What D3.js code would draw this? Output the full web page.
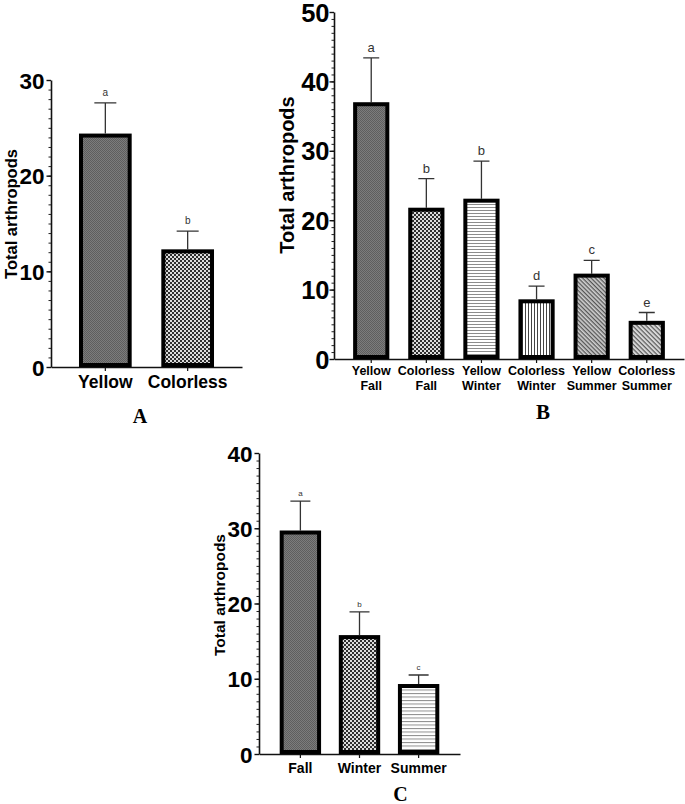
<!DOCTYPE html>
<html><head><meta charset="utf-8">
<script src="https://cdn.jsdelivr.net/npm/d3@7"></script>
<style>body{margin:0;background:#fff}svg{display:block}</style></head><body>
<svg id="c" width="685" height="804"></svg>
<script>
// ---- Data ----
const catsA = ["Yellow", "Colorless"];
const meanA = [24.4, 12.3];
const semA = [3.2, 1.9];
const sigA = ["a", "b"];
const ticksA = [0, 10, 20, 30];

const catsB = [["Yellow", "Fall"], ["Colorless", "Fall"], ["Yellow", "Winter"], ["Colorless", "Winter"], ["Yellow", "Summer"], ["Colorless", "Summer"]];
const meanB = [37.0, 21.8, 23.1, 8.6, 12.3, 5.5];
const semB = [6.4, 4.2, 5.4, 1.9, 1.9, 1.2];
const sigB = ["a", "b", "b", "d", "c", "e"];
const ticksB = [0, 10, 20, 30, 40, 50];

const catsC = ["Fall", "Winter", "Summer"];
const meanC = [29.7, 15.8, 9.3];
const semC = [3.9, 3.1, 1.2];
const sigC = ["a", "b", "c"];
const ticksC = [0, 10, 20, 30, 40];

const yTitle = "Total arthropods";

const svg = d3.select("#c");
const defs = svg.append("defs");

// ---- Patterns ----
function pat(id, w, h, bg, build, transform) {
  const p = defs.append("pattern").attr("id", id).attr("patternUnits", "userSpaceOnUse")
    .attr("width", w).attr("height", h);
  if (transform) p.attr("patternTransform", transform);
  p.append("rect").attr("width", w).attr("height", h).attr("fill", bg);
  build(p);
}
pat("fine", 2, 2, "#7c7c7c", p => {
  p.append("rect").attr("x", 0).attr("y", 0).attr("width", 1).attr("height", 1).attr("fill", "#5e5e5e");
  p.append("rect").attr("x", 1).attr("y", 1).attr("width", 1).attr("height", 1).attr("fill", "#5e5e5e");
});
pat("check", 4, 4, "#dcdcdc", p => {
  p.append("rect").attr("x", 0).attr("y", 0).attr("width", 2).attr("height", 2).attr("fill", "#2e2e2e");
  p.append("rect").attr("x", 2).attr("y", 2).attr("width", 2).attr("height", 2).attr("fill", "#2e2e2e");
});
pat("hlines", 4, 3, "#ffffff", p => {
  p.append("rect").attr("x", 0).attr("y", 0).attr("width", 4).attr("height", 1).attr("fill", "#8c8c8c");
});
pat("hlines2", 4, 3.5, "#ffffff", p => {
  p.append("rect").attr("x", 0).attr("y", 0).attr("width", 4).attr("height", 1).attr("fill", "#8c8c8c");
});
pat("vlines", 3, 4, "#ffffff", p => {
  p.append("rect").attr("x", 0).attr("y", 0).attr("width", 1).attr("height", 4).attr("fill", "#444");
});
pat("diag", 4, 3, "#d0d0d0", p => {
  p.append("rect").attr("x", 0).attr("y", 0).attr("width", 4).attr("height", 1.3).attr("fill", "#555");
}, "rotate(45)");
pat("diag2", 4, 3.2, "#d8d8d8", p => {
  p.append("rect").attr("x", 0).attr("y", 0).attr("width", 4).attr("height", 1.2).attr("fill", "#5a5a5a");
}, "rotate(45)");

const SANS = "'Liberation Sans', Arial, sans-serif";
const SERIF = "'Liberation Serif', 'Times New Roman', serif";

function panel(cfg) {
  const g = svg.append("g");
  const x = d3.scaleBand().domain(d3.range(cfg.means.length)).range([cfg.x0, cfg.x1])
    .paddingInner(cfg.pi).paddingOuter(cfg.po);
  const y = d3.scaleLinear().domain([0, cfg.max]).range([cfg.y0, cfg.y1]);

  // minor ticks
  const minor = g.append("g").attr("transform", `translate(${cfg.x0},0)`)
    .call(d3.axisLeft(y).tickValues(d3.range(0, cfg.max + 1, 1)).tickSize(2.5).tickSizeOuter(0).tickFormat(""));
  minor.select(".domain").remove();
  minor.selectAll("line").attr("stroke", "#222").attr("stroke-width", 1);

  // major axis
  const ya = g.append("g").attr("transform", `translate(${cfg.x0},0)`)
    .call(d3.axisLeft(y).tickValues(cfg.ticks).tickSize(4.5).tickSizeOuter(0).tickPadding(cfg.tickGap));
  ya.select(".domain").attr("stroke", "#111").attr("stroke-width", 1.6);
  ya.selectAll("line").attr("stroke", "#111").attr("stroke-width", 1.4);
  ya.selectAll("text").attr("font-family", SANS).attr("font-weight", "bold")
    .attr("font-size", cfg.tickFont).attr("fill", "#000").attr("dy", "0.36em");

  const xa = g.append("g").attr("transform", `translate(0,${cfg.y0})`)
    .call(d3.axisBottom(x).tickSize(4).tickSizeOuter(0).tickFormat(""));
  xa.select(".domain").attr("stroke", "#111").attr("stroke-width", 1.6);
  xa.selectAll("line").attr("stroke", "#111").attr("stroke-width", 1.2);

  // error bars
  const idx = d3.range(cfg.means.length);
  const cx = i => x(i) + x.bandwidth() / 2;
  g.selectAll(".err").data(idx).join("path")
    .attr("d", i => `M${cx(i)},${y(cfg.means[i])}V${y(cfg.means[i] + cfg.sems[i])}` +
      `M${cx(i) - cfg.capW / 2},${y(cfg.means[i] + cfg.sems[i])}H${cx(i) + cfg.capW / 2}`)
    .attr("stroke", "#333").attr("stroke-width", 1.3).attr("fill", "none");

  // bars
  g.selectAll(".bar").data(idx).join("rect")
    .attr("x", i => x(i) + 2).attr("width", x.bandwidth() - 4)
    .attr("y", i => y(cfg.means[i]) + 2)
    .attr("height", i => y(0) - 2 - (y(cfg.means[i]) + 2))
    .attr("fill", i => `url(#${cfg.pats[i]})`)
    .attr("stroke", "#000").attr("stroke-width", 4);

  // significance letters
  g.selectAll(".sig").data(idx).join("text")
    .attr("x", cx).attr("y", i => y(cfg.means[i] + cfg.sems[i]) - cfg.sigGap)
    .attr("text-anchor", "middle").attr("font-family", SANS).attr("font-size", cfg.sigFont)
    .attr("fill", "#333").text(i => cfg.sig[i]);

  // x labels
  g.selectAll(".xl").data(idx).join("text")
    .attr("text-anchor", "middle").attr("font-family", SANS).attr("font-weight", "bold")
    .attr("font-size", cfg.xFont).attr("fill", "#000")
    .each(function (i) {
      const t = d3.select(this);
      const lines = Array.isArray(cfg.cats[i]) ? cfg.cats[i] : [cfg.cats[i]];
      lines.forEach((ln, k) => t.append("tspan").attr("x", cx(i)).attr("y", cfg.xBase + k * cfg.xLine).text(ln));
    });

  // y title
  g.append("text").attr("transform", `translate(${cfg.tx},${cfg.ty}) rotate(-90)`)
    .attr("text-anchor", "middle").attr("font-family", SANS).attr("font-weight", "bold")
    .attr("font-size", cfg.titleFont).attr("fill", "#000").text(yTitle);

  // panel letter
  g.append("text").attr("x", cfg.lx).attr("y", cfg.ly).attr("text-anchor", "middle")
    .attr("font-family", SERIF).attr("font-weight", "bold").attr("font-size", cfg.lFont)
    .attr("fill", "#000").text(cfg.letter);
}

panel({
  cats: catsA, means: meanA, sems: semA, sig: sigA, ticks: ticksA, max: 30,
  pats: ["fine", "check"],
  x0: 51, x1: 242, y0: 367, y1: 80, pi: 0.36, po: 0.34,
  tickFont: 22.5, tickGap: 2, capW: 22, sigFont: 10, sigGap: 7,
  xFont: 17.5, xBase: 388, xLine: 0,
  titleFont: 16.5, tx: 17, ty: 214,
  letter: "A", lx: 140, ly: 423, lFont: 20
});
panel({
  cats: catsB, means: meanB, sems: semB, sig: sigB, ticks: ticksB, max: 50,
  pats: ["fine", "check", "hlines", "vlines", "diag", "diag2"],
  x0: 334, x1: 684, y0: 359, y1: 12, pi: 0.343, po: 0.347,
  tickFont: 25.5, tickGap: 0, capW: 16, sigFont: 13, sigGap: 6,
  xFont: 12.5, xBase: 375, xLine: 15,
  titleFont: 20, tx: 294, ty: 175,
  letter: "B", lx: 543, ly: 419, lFont: 21
});
panel({
  cats: catsC, means: meanC, sems: semC, sig: sigC, ticks: ticksC, max: 40,
  pats: ["fine", "check", "hlines2"],
  x0: 259, x1: 460, y0: 754, y1: 453, pi: 0.30, po: 0.35,
  tickFont: 22.5, tickGap: 2, capW: 20, sigFont: 8, sigGap: 5,
  xFont: 14, xBase: 773, xLine: 0,
  titleFont: 15.5, tx: 224.5, ty: 595,
  letter: "C", lx: 400.5, ly: 801, lFont: 20
});
</script>
</body></html>
